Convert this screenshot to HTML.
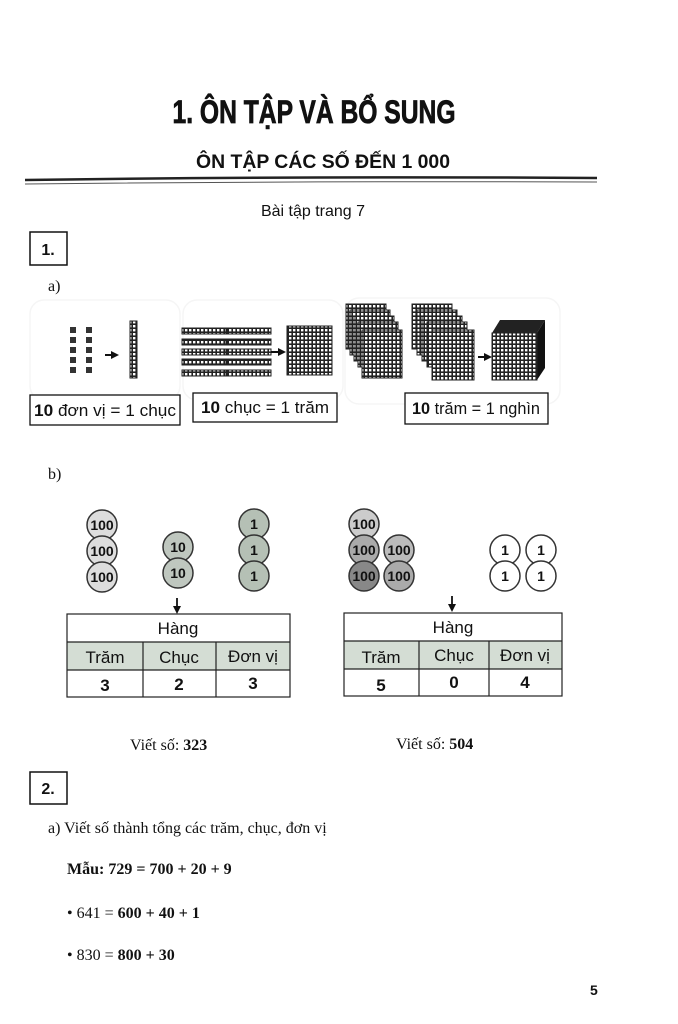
<!DOCTYPE html>
<html><head><meta charset="utf-8"><style>
html,body{margin:0;padding:0;background:#fff}
svg{display:block}
text{font-family:"Liberation Sans",sans-serif;fill:#111}
.s{font-family:"Liberation Serif",serif}
</style></head><body>
<svg width="678" height="1024" viewBox="0 0 678 1024" xmlns="http://www.w3.org/2000/svg">
<defs>
<pattern id="g" width="4" height="4" patternUnits="userSpaceOnUse">
<rect width="4" height="4" fill="#222"/><rect x="1" y="1" width="2.4" height="2.4" fill="#fff"/>
</pattern>
<marker id="ah" markerUnits="userSpaceOnUse" markerWidth="8" markerHeight="8" refX="6" refY="4" orient="auto"><path d="M0,0 L8,4 L0,8 Z" fill="#111"/></marker>
</defs>
<text x="314" y="123" text-anchor="middle" font-size="32" font-weight="bold" stroke="#111" stroke-width="0.8" textLength="283" lengthAdjust="spacingAndGlyphs">1. ÔN TẬP VÀ BỔ SUNG</text>
<text x="323" y="168" text-anchor="middle" font-size="19" font-weight="bold" textLength="254" lengthAdjust="spacingAndGlyphs">ÔN TẬP CÁC SỐ ĐẾN 1 000</text>
<path d="M25,180 Q300,176 597,178" stroke="#222" stroke-width="2.5" fill="none"/>
<path d="M25,184 Q300,181 597,182" stroke="#555" stroke-width="1" fill="none"/>
<text x="313" y="216" text-anchor="middle" font-size="16">Bài tập trang 7</text>
<rect x="30" y="232" width="37" height="33" fill="none" stroke="#111" stroke-width="1.5"/>
<text x="48" y="255" text-anchor="middle" font-size="16" font-weight="bold">1.</text>
<text x="48" y="291" class="s" font-size="16">a)</text>
<rect x="30" y="300" width="150" height="100" rx="14" fill="none" stroke="#f5f5f5" stroke-width="1.5"/>
<rect x="183" y="300" width="160" height="100" rx="14" fill="none" stroke="#f5f5f5" stroke-width="1.5"/>
<rect x="345" y="298" width="215" height="106" rx="14" fill="none" stroke="#f5f5f5" stroke-width="1.5"/>
<g fill="#333">
<rect x="70" y="327" width="6" height="6"/><rect x="70" y="337" width="6" height="6"/><rect x="70" y="347" width="6" height="6"/><rect x="70" y="357" width="6" height="6"/><rect x="70" y="367" width="6" height="6"/>
<rect x="86" y="327" width="6" height="6"/><rect x="86" y="337" width="6" height="6"/><rect x="86" y="347" width="6" height="6"/><rect x="86" y="357" width="6" height="6"/><rect x="86" y="367" width="6" height="6"/>
</g>
<line x1="105" y1="355" x2="117" y2="355" stroke="#111" stroke-width="2" marker-end="url(#ah)"/>
<rect x="130" y="321" width="7" height="57" fill="url(#g)" stroke="#222"/>
<g fill="url(#g)" stroke="#222">
<rect x="182" y="328" width="44" height="6"/><rect x="227" y="328" width="44" height="6"/>
<rect x="182" y="339" width="44" height="6"/><rect x="227" y="339" width="44" height="6"/>
<rect x="182" y="349" width="44" height="6"/><rect x="227" y="349" width="44" height="6"/>
<rect x="182" y="359" width="44" height="6"/><rect x="227" y="359" width="44" height="6"/>
<rect x="182" y="370" width="44" height="6"/><rect x="227" y="370" width="44" height="6"/>
<rect x="287" y="326" width="45" height="49"/>
</g>
<line x1="271" y1="352" x2="284" y2="352" stroke="#111" stroke-width="2" marker-end="url(#ah)"/>
<g fill="url(#g)" stroke="#222">
<rect x="346" y="304" width="40" height="45"/><rect x="350" y="310" width="40" height="45"/><rect x="354" y="316" width="40" height="45"/><rect x="358" y="322" width="40" height="45"/><rect x="362" y="330" width="40" height="48"/>
<rect x="412" y="304" width="40" height="45"/><rect x="417" y="310" width="40" height="45"/><rect x="422" y="316" width="40" height="45"/><rect x="427" y="322" width="40" height="45"/><rect x="432" y="330" width="42" height="50"/>
</g>
<line x1="478" y1="357" x2="490" y2="357" stroke="#111" stroke-width="2" marker-end="url(#ah)"/>
<polygon points="492,333 500,320 545,320 537,333" fill="#222"/>
<polygon points="537,333 545,320 545,368 537,380" fill="#111"/>
<rect x="492" y="333" width="45" height="47" fill="url(#g)" stroke="#222"/>
<g fill="#fff" stroke="#111" stroke-width="1.3">
<rect x="30" y="395" width="150" height="30"/><rect x="193" y="393" width="144" height="29"/><rect x="405" y="393" width="143" height="31"/>
</g>
<text x="105" y="416" text-anchor="middle" font-size="17" textLength="142" lengthAdjust="spacingAndGlyphs"><tspan font-weight="bold">10</tspan> đơn vị = 1 chục</text>
<text x="265" y="413" text-anchor="middle" font-size="17" textLength="128" lengthAdjust="spacingAndGlyphs"><tspan font-weight="bold">10</tspan> chục = 1 trăm</text>
<text x="476" y="414" text-anchor="middle" font-size="17" textLength="128" lengthAdjust="spacingAndGlyphs"><tspan font-weight="bold">10</tspan> trăm = 1 nghìn</text>
<text x="48" y="479" class="s" font-size="16">b)</text>
<g stroke="#333" stroke-width="1.5">
<circle cx="102" cy="525" r="15" fill="#ddd"/><circle cx="102" cy="551" r="15" fill="#ddd"/><circle cx="102" cy="577" r="15" fill="#ddd"/>
<circle cx="178" cy="547" r="15" fill="#bfc7bf"/><circle cx="178" cy="573" r="15" fill="#bfc7bf"/>
<circle cx="254" cy="524" r="15" fill="#b5c0b5"/><circle cx="254" cy="550" r="15" fill="#b5c0b5"/><circle cx="254" cy="576" r="15" fill="#b5c0b5"/>
<circle cx="364" cy="524" r="15" fill="#ccc"/><circle cx="364" cy="550" r="15" fill="#aaa"/><circle cx="364" cy="576" r="15" fill="#888"/>
<circle cx="399" cy="550" r="15" fill="#bbb"/><circle cx="399" cy="576" r="15" fill="#aaa"/>
<circle cx="505" cy="550" r="15" fill="#fff"/><circle cx="505" cy="576" r="15" fill="#fff"/><circle cx="541" cy="550" r="15" fill="#fff"/><circle cx="541" cy="576" r="15" fill="#fff"/>
</g>
<g font-size="14" font-weight="bold" text-anchor="middle">
<text x="102" y="530">100</text><text x="102" y="556">100</text><text x="102" y="582">100</text>
<text x="178" y="552">10</text><text x="178" y="578">10</text>
<text x="254" y="529">1</text><text x="254" y="555">1</text><text x="254" y="581">1</text>
<text x="364" y="529">100</text><text x="364" y="555">100</text><text x="364" y="581">100</text>
<text x="399" y="555">100</text><text x="399" y="581">100</text>
<text x="505" y="555">1</text><text x="505" y="581">1</text><text x="541" y="555">1</text><text x="541" y="581">1</text>
</g>
<line x1="177" y1="598" x2="177" y2="612" stroke="#111" stroke-width="1.8" marker-end="url(#ah)"/>
<line x1="452" y1="596" x2="452" y2="610" stroke="#111" stroke-width="1.8" marker-end="url(#ah)"/>
<rect x="67" y="642" width="223" height="28" fill="#d4ddd4"/>
<rect x="344" y="641" width="218" height="28" fill="#d4ddd4"/>
<g fill="none" stroke="#222" stroke-width="1.2">
<rect x="67" y="614" width="223" height="83"/><line x1="67" y1="642" x2="290" y2="642"/><line x1="67" y1="670" x2="290" y2="670"/><line x1="143" y1="642" x2="143" y2="697"/><line x1="216" y1="642" x2="216" y2="697"/>
<rect x="344" y="613" width="218" height="83"/><line x1="344" y1="641" x2="562" y2="641"/><line x1="344" y1="669" x2="562" y2="669"/><line x1="419" y1="641" x2="419" y2="696"/><line x1="489" y1="641" x2="489" y2="696"/>
</g>
<g font-size="17" text-anchor="middle">
<text x="178" y="634">Hàng</text><text x="105" y="663">Trăm</text><text x="179" y="663">Chục</text><text x="253" y="662">Đơn vị</text>
<text x="105" y="691" font-weight="bold">3</text><text x="179" y="690" font-weight="bold">2</text><text x="253" y="689" font-weight="bold">3</text>
<text x="453" y="633">Hàng</text><text x="381" y="663">Trăm</text><text x="454" y="661">Chục</text><text x="525" y="661">Đơn vị</text>
<text x="381" y="691" font-weight="bold">5</text><text x="454" y="688" font-weight="bold">0</text><text x="525" y="688" font-weight="bold">4</text>
</g>
<text x="130" y="750" class="s" font-size="16">Viết số: <tspan font-weight="bold">323</tspan></text>
<text x="396" y="749" class="s" font-size="16">Viết số: <tspan font-weight="bold">504</tspan></text>
<rect x="30" y="772" width="37" height="32" fill="none" stroke="#111" stroke-width="1.5"/>
<text x="48" y="794" text-anchor="middle" font-size="16" font-weight="bold">2.</text>
<text x="48" y="833" class="s" font-size="16">a) Viết số thành tổng các trăm, chục, đơn vị</text>
<text x="67" y="874" class="s" font-size="16" font-weight="bold">Mẫu: 729 = 700 + 20 + 9</text>
<text x="67" y="918" class="s" font-size="16">• 641 = <tspan font-weight="bold">600 + 40 + 1</tspan></text>
<text x="67" y="960" class="s" font-size="16">• 830 = <tspan font-weight="bold">800 + 30</tspan></text>
<text x="590" y="995" font-size="14" font-weight="bold">5</text>
</svg>
</body></html>
